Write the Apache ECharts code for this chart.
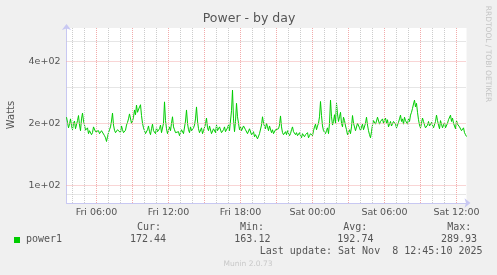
<!DOCTYPE html>
<html>
<head>
<meta charset="utf-8">
<script src="https://cdn.jsdelivr.net/npm/echarts@6/dist/echarts.min.js"></script>
<style>
html,body{margin:0;padding:0;background:#f0f0f0;}
#c{width:497px;height:275px;}
</style>
</head>
<body>
<div id="c"></div>
<script>
// ---- data (5-min RRD averages, Fri 03:30 -> Sat 12:50) ----
const startMinute = 210;      // Fri 03:30, minutes since Fri 00:00
const stepMinutes = 5;
const power1 = [
  214, 202, 190, 198, 210, 195, 186, 200, 205, 188, 192, 206, 218, 196, 184, 210, 224, 205, 196, 185,
  182, 190, 178, 184, 186, 176, 180, 192, 190, 182, 178, 186, 184, 178, 176, 184, 188, 180, 174, 170,
  163.12, 172, 180, 186, 192, 205, 224, 196, 185, 180, 178, 186, 190, 182, 180, 194, 186, 180, 177, 185,
  196, 202, 210, 222, 219, 200, 205, 214, 232, 220, 245, 226, 228, 240, 246, 218, 200, 190, 184, 178,
  180, 186, 194, 182, 176, 188, 198, 184, 182, 178, 190, 182, 178, 188, 196, 180, 184, 200, 254, 206,
  188, 178, 180, 192, 184, 200, 215, 192, 186, 180, 178, 184, 182, 174, 176, 186, 184, 178, 180, 205,
  232, 200, 186, 180, 192, 184, 180, 190, 196, 210, 240, 205, 188, 180, 182, 190, 178, 184, 186, 198,
  212, 190, 184, 194, 190, 178, 180, 188, 186, 180, 196, 184, 182, 192, 188, 180, 178, 186, 192, 182,
  184, 190, 196, 184, 188, 230, 289.93, 210, 182, 204, 250, 215, 200, 186, 192, 184, 186, 194, 198, 186,
  188, 178, 180, 188, 184, 176, 176, 182, 172, 176, 178, 168, 170, 178, 182, 196, 215, 200, 196, 188,
  200, 192, 184, 194, 190, 180, 186, 178, 178, 186, 182, 190, 188, 196, 217, 192, 180, 176, 178, 182,
  176, 184, 180, 174, 178, 186, 192, 182, 184, 176, 180, 174, 176, 180, 174, 170, 178, 182, 172, 176,
  176, 180, 170, 174, 178, 182, 174, 184, 192, 198, 186, 194, 200, 215, 255, 218, 194, 184, 180, 178,
  184, 190, 178, 200, 259, 215, 196, 204, 220, 200, 250, 222, 204, 215, 226, 200, 192, 214, 206, 194,
  186, 176, 180, 186, 178, 192, 218, 200, 196, 184, 188, 200, 204, 190, 184, 192, 198, 186, 190, 200,
  214, 196, 184, 176, 170, 182, 196, 206, 208, 198, 205, 214, 212, 198, 204, 208, 210, 200, 207, 212,
  200, 208, 192, 198, 204, 194, 196, 204, 206, 198, 190, 196, 202, 210, 219, 204, 210, 198, 214, 206,
  204, 198, 210, 204, 219, 226, 236, 248, 259, 240, 250, 226, 208, 196, 190, 200, 212, 204, 196, 190,
  186, 196, 204, 194, 192, 202, 198, 190, 188, 204, 219, 206, 196, 188, 206, 198, 190, 196, 202, 190,
  194, 200, 208, 212, 219, 204, 212, 200, 196, 188, 206, 198, 200, 192, 190, 184, 184, 190, 180, 176,
  172.44
];
const yMajorTicks = [100, 200, 400];
const yMajorLabels = ['1e+02', '2e+02', '4e+02'];
const yMinorTicks = [90, 300, 500];
const statHeaders = ['Cur:', 'Min:', 'Avg:', 'Max:'];
const statValues = ['172.44', '163.12', '192.74', '289.93'];
const seriesName = 'power1';
const lastUpdate = 'Last update: Sat Nov  8 12:45:10 2025';

// ---- category axis (time of each sample) ----
const minutes = power1.map((_, i) => startMinute + i * stepMinutes);
function fmt(m) {
  const day = m < 1440 ? 'Fri' : 'Sat';
  const mm = m % 1440;
  const h = Math.floor(mm / 60), n = mm % 60;
  return day + ' ' + String(h).padStart(2, '0') + ':' + String(n).padStart(2, '0');
}
const cats = minutes.map(fmt);
const isHour = i => minutes[i] % 60 === 0;
const is3h = i => minutes[i] % 180 === 0;
const is6h = i => minutes[i] % 360 === 0;

const AX = '#c8c8f2';
const GRAY = '#cccccc';
const RED = '#f2aaaa';
const TXT = '#555555';
const SANS = 'DejaVu Sans';
const MONO = 'DejaVu Sans Mono';
const DOT = [1, 1];

const grayLines = [];
cats.forEach((c, i) => { if (isHour(i) && !is3h(i)) grayLines.push({xAxis: c}); });
yMinorTicks.forEach(v => grayLines.push({yAxis: v}));
const redVLines = [];
cats.forEach((c, i) => { if (is3h(i)) redVLines.push({xAxis: c}); });
const redHLines = yMajorTicks.map(v => ({yAxis: v}));

function gridSeries(name, lines, color, withLabels) {
  return {
    type: 'line', name: name, data: cats.map(() => null), z: 1, silent: true,
    color: color,
    markLine: {
      silent: true, symbol: ['none', 'none'], animation: false,
      lineStyle: {color: color, type: DOT, width: 1, opacity: 1},
      itemStyle: {color: color},
      label: withLabels ? {
        show: true, position: 'start', distance: 6, color: TXT, fontFamily: SANS, fontSize: 9.5,
        formatter: p => yMajorLabels[yMajorTicks.indexOf(Number(p.value))] || ''
      } : {show: false},
      emphasis: {disabled: true},
      data: lines
    }
  };
}

const graphics = [
  {type: 'text', x: 249, y: 19, style: {text: 'Power - by day', font: '12.5px "' + SANS + '"', fill: TXT, textAlign: 'center', textVerticalAlign: 'middle'}},
  {type: 'text', x: 11, y: 115, rotation: Math.PI / 2, style: {text: 'Watts', font: '10px "' + SANS + '"', fill: TXT, textAlign: 'center', textVerticalAlign: 'middle'}},
  {type: 'text', x: 488, y: 54, rotation: -Math.PI / 2, style: {text: 'RRDTOOL / TOBI OETIKER', font: '7.5px "' + SANS + '"', fill: '#c4c4c4', textAlign: 'center', textVerticalAlign: 'middle'}},
  {type: 'rect', shape: {x: 14, y: 237, width: 6, height: 6}, style: {fill: '#00cc00'}},
  {type: 'text', x: 26, y: 239.5, style: {text: seriesName, font: '10px "' + MONO + '"', fill: TXT, textAlign: 'left', textVerticalAlign: 'middle'}},
  {type: 'text', x: 482.5, y: 251.7, style: {text: lastUpdate, font: '10px "' + MONO + '"', fill: TXT, textAlign: 'right', textVerticalAlign: 'middle'}},
  {type: 'text', x: 248, y: 264.5, style: {text: 'Munin 2.0.73', font: '7.5px "' + SANS + '"', fill: '#c8c8c8', textAlign: 'center', textVerticalAlign: 'middle'}}
];
const headX = [137, 240, 343.3, 447.3];
const valX = [130, 234.3, 337.3, 441];
statHeaders.forEach((h, k) => {
  graphics.push({type: 'text', x: headX[k], y: 227.7, style: {text: h, font: '10px "' + MONO + '"', fill: TXT, textAlign: 'left', textVerticalAlign: 'middle'}});
  graphics.push({type: 'text', x: valX[k], y: 239.5, style: {text: statValues[k], font: '10px "' + MONO + '"', fill: TXT, textAlign: 'left', textVerticalAlign: 'middle'}});
});

const chart = echarts.init(document.getElementById('c'), null, {renderer: 'canvas'});
chart.setOption({
  animation: false,
  backgroundColor: '#f0f0f0',
  grid: {left: 66.5, top: 28, width: 400, height: 175, show: true, backgroundColor: '#ffffff', borderWidth: 0, containLabel: false},
  xAxis: {
    type: 'category', data: cats, boundaryGap: false, position: 'bottom',
    axisLine: {show: true, lineStyle: {color: AX, width: 1}, symbol: ['none', 'arrow'], symbolSize: [7, 6], symbolOffset: [0, 4]},
    axisTick: {show: false},
    axisLabel: {show: true, interval: (i) => is6h(i), color: TXT, fontFamily: SANS, fontSize: 9.5, margin: 5},
    splitLine: {show: false}
  },
  yAxis: {
    type: 'log', logBase: 10, min: 82, max: 580,
    axisLine: {show: true, lineStyle: {color: AX, width: 1}, symbol: ['none', 'arrow'], symbolSize: [7, 6], symbolOffset: [0, 4]},
    axisTick: {show: false}, axisLabel: {show: false}, splitLine: {show: false}
  },
  series: [
    gridSeries('gridMinor', grayLines, GRAY, false),
    gridSeries('gridMajorV', redVLines, RED, false),
    gridSeries('gridMajorH', redHLines, RED, true),
    {type: 'line', name: seriesName, data: power1, z: 3, showSymbol: false, symbol: 'none',
      lineStyle: {color: '#00cc00', width: 1}, itemStyle: {color: '#00cc00'}}
  ],
  graphic: graphics
});
</script>
</body>
</html>
